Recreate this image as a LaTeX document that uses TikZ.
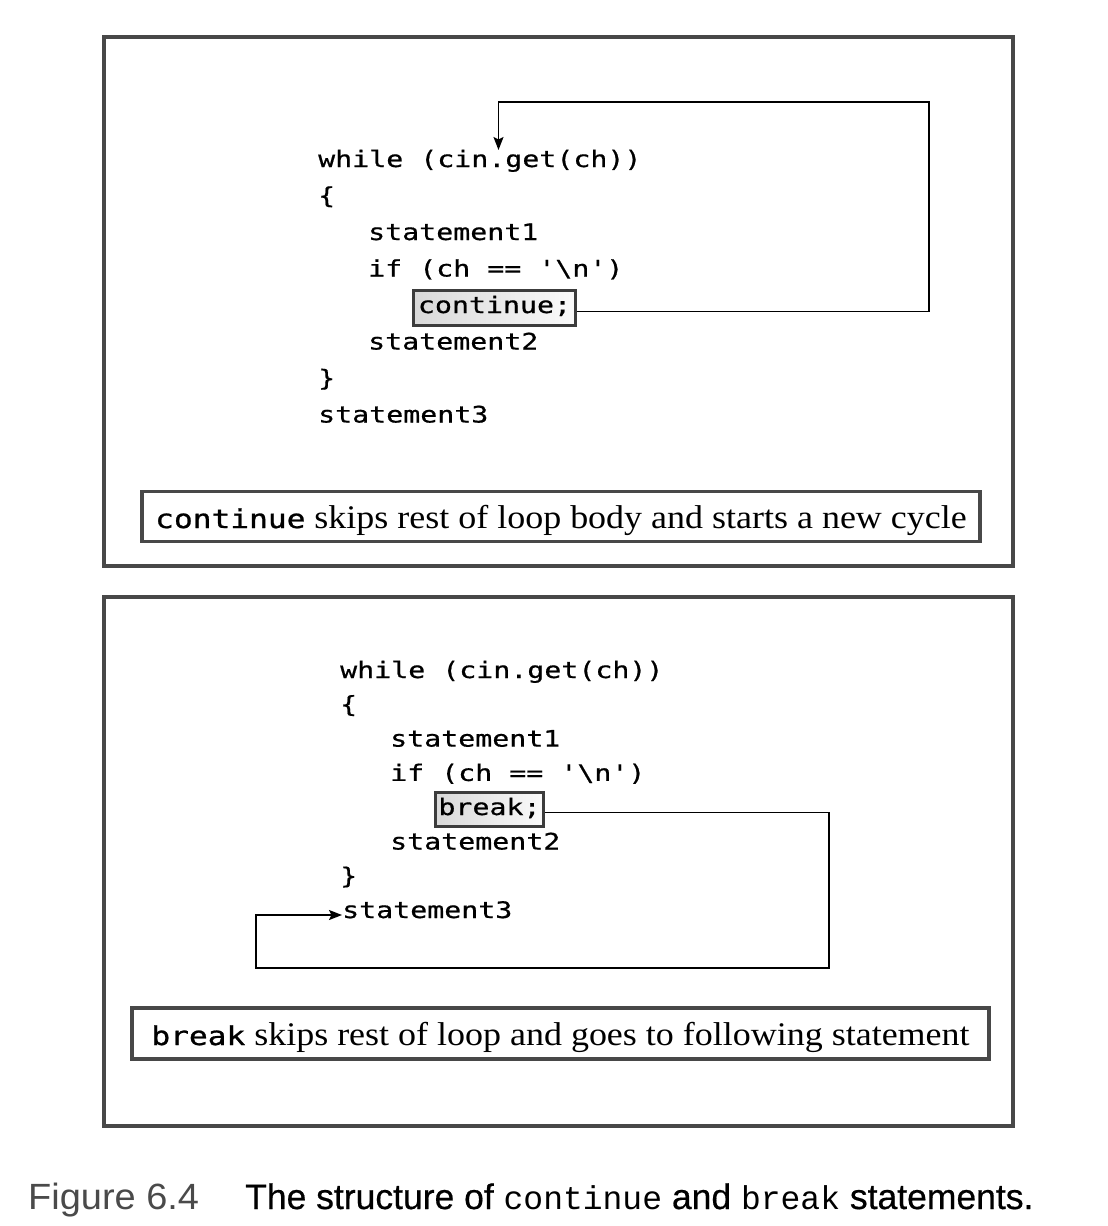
\documentclass[tikz,border=0pt]{standalone}
\usepackage{fontspec}
\setmainfont{Liberation Serif}[FakeStretch=1.09]
\newfontfamily\codefont{DejaVu Sans Mono}[FakeStretch=1.245, FakeBold=0.6]
\newfontfamily\lblmono{DejaVu Sans Mono}[FakeStretch=1.2, FakeBold=0.9]
\newfontfamily\capsans{Liberation Sans}
\newfontfamily\capmono{Liberation Mono}
\usetikzlibrary{arrows.meta}
\definecolor{framegray}{HTML}{484848}
\definecolor{boxgray}{HTML}{3C3C3C}
\definecolor{figgray}{HTML}{4A4A4A}
\begin{document}
\begin{tikzpicture}[x=1pt,y=-1pt,
  code/.style={anchor=base west, inner sep=0pt, font=\codefont\fontsize{22.7}{24}\selectfont},
  frame/.style={draw=framegray, line width=4.5pt},
  kwbox/.style={draw=boxgray, line width=3pt, left color=gray!30, right color=gray!4, inner sep=0pt},
  kwtext/.style={anchor=base, inner sep=0pt, font=\codefont\fontsize{22.7}{24}\selectfont},
  lblbox/.style={draw=framegray, line width=3.5pt, fill=white, inner sep=0pt},
  lbltext/.style={anchor=base, inner sep=0pt, font=\fontsize{33}{36}\selectfont},
  link/.style={line width=1.8pt, black},
  tip/.style={-{Stealth[length=13pt,width=10pt,inset=2.5pt]}}
]
\useasboundingbox (0,0) rectangle (1108,1226);

% ---------- frames ----------
\node[frame, minimum width=909pt, minimum height=529pt] (f1) at (558.5,301.5) {};
\node[frame, minimum width=909pt, minimum height=529pt] (f2) at (558.5,861.5) {};

% ---------- top panel: continue ----------
\node[code] (t1) at (318,167) {while (cin.get(ch))};
\node[code] (t2) at (318,203.5) {\{};
\node[code] (t3) at (368,240) {statement1};
\node[code] (t4) at (368,276.5) {if (ch == '\textbackslash n')};
\node[kwbox, minimum width=162pt, minimum height=35pt] (c1) at (494.5,307.5) {};
\node[kwtext] (c1t) at (494.5,313) {continue;};
\node[code] (t6) at (368,349.5) {statement2};
\node[code] (t7) at (318,386) {\}};
\node[code] (t8) at (318,422.5) {statement3};

\coordinate (r1) at (929,102);
\coordinate (a1) at (498.5,150);
\draw[link,tip] ([yshift=-4pt]c1.east) -| (r1) -| (a1);

\node[lblbox, minimum width=838pt, minimum height=50pt] (l1) at (561,516.5) {};
\node[lbltext] (l1t) at (561,528) {{\lblmono\fontsize{26}{28}\selectfont continue} skips rest of loop body and starts a new cycle};

% ---------- bottom panel: break ----------
\node[code] (b1) at (340,678) {while (cin.get(ch))};
\node[code] (b2) at (340,712.3) {\{};
\node[code] (b3) at (390,746.6) {statement1};
\node[code] (b4) at (390,780.9) {if (ch == '\textbackslash n')};
\node[kwbox, minimum width=108pt, minimum height=34pt] (k1) at (489.5,809.5) {};
\node[kwtext] (k1t) at (489.5,815) {break;};
\node[code] (b6) at (390,849.5) {statement2};
\node[code] (b7) at (340,883.8) {\}};
\node[code] (b8) at (342,918) {statement3};

\coordinate (r2) at (829,968);
\coordinate (l2c) at (256,968);
\coordinate (a2) at (342,915);
\draw[link,tip] ([yshift=-3pt]k1.east) -| (r2) -- (l2c) |- (a2);

\node[lblbox, minimum width=857pt, minimum height=51pt] (l2) at (560.5,1033.5) {};
\node[lbltext] (l2t) at (560.5,1045) {{\lblmono\fontsize{26}{28}\selectfont break} skips rest of loop and goes to following statement};

% ---------- caption ----------
\node[anchor=base west, inner sep=0pt, text=figgray, font=\capsans\addfontfeature{FakeStretch=1.04}\fontsize{36.5}{38}\selectfont] (cap1) at (28,1209) {Figure 6.4};
\node[anchor=base west, inner sep=0pt, font=\capsans\addfontfeature{FakeBold=0.5}\fontsize{35.5}{38}\selectfont] (cap2) at (245,1209) {The structure of {\capmono\fontsize{33}{36}\selectfont continue} and {\capmono\fontsize{33}{36}\selectfont break} statements.};
\end{tikzpicture}
\end{document}
